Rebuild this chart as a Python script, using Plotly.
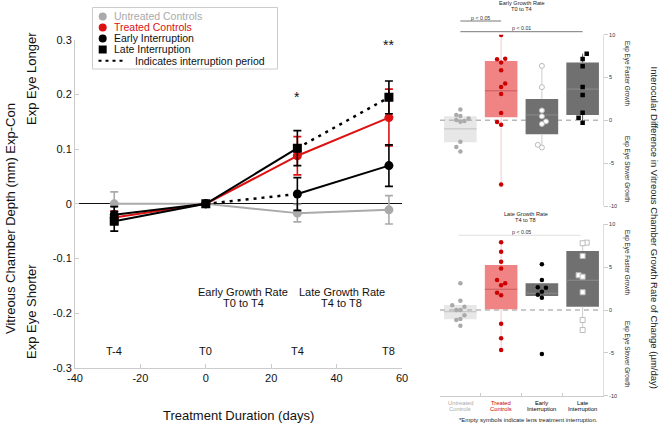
import plotly.graph_objects as go

W, H = 660, 425
FONT = "Liberation Sans, Arial, Helvetica, sans-serif"


def fx(px):
    return px / W


def fy(py):
    return 1 - py / H


# ---------------- Left panel data ----------------
days = [-28, 0, 28, 56]
time_labels = ["T-4", "T0", "T4", "T8"]
sig_labels = ["", "", "*", "**"]
x_ticks = [-40, -20, 0, 20, 40, 60]
x_tick_text = ["-40", "-20", "0", "20", "40", "60"]
y_ticks = [-0.3, -0.2, -0.1, 0, 0.1, 0.2, 0.3]
y_tick_text = ["-0.3", "-0.2", "-0.1", "0", "0.1", "0.2", "0.3"]

untreated_y = [0.0, 0.0, -0.017, -0.011]
untreated_err = [0.022, 0.0, 0.016, 0.026]
treated_y = [-0.025, 0.0, 0.088, 0.158]
treated_err = [0.012, 0.0, 0.035, 0.052]
early_y = [-0.020, 0.0, 0.018, 0.070]
early_err = [0.015, 0.0, 0.030, 0.038]
late_y = [-0.032, 0.0, 0.102, 0.195]
late_err = [0.018, 0.0, 0.032, 0.030]

series_names = ["Untreated Controls", "Treated Controls", "Early Interruption", "Late Interruption"]
series_y = [untreated_y, treated_y, early_y, late_y]
series_err = [untreated_err, treated_err, early_err, late_err]
series_color = ["#aaaaaa", "#dd1111", "#000000", "#000000"]
series_symbol = ["circle", "circle", "circle", "square"]
interrupt_segment = [None, None, 1, 2]   # index of the interval drawn dotted

# ---------------- Right panel data ----------------
groups = ["Untreated<br>Controls", "Treated<br>Controls", "Early<br>Interruption", "Late<br>Interruption"]
group_colors = ["#aaaaaa", "#cc0000", "#000000", "#000000"]
rate_ticks = [-10, -5, 0, 5, 10]
rate_tick_text = ["-10", "-5", "0", "5", "10"]

# Early growth rate T0-T4 (µm/day)
t04_untreated = [1.28, 0.63, 0.51, 0.05, -0.15, -0.07, 0.23, -2.51, -3.10, -3.64]
t04_untreated_jit = [0, -0.1, 0, -0.1, 0, 0.1, 0.2, 0, -0.1, 0]
t04_treated = [9.97, 7.14, 7.20, 6.74, 5.86, 4.30, 3.88, 3.07, 0.86, -0.19, -0.50, -7.48]
t04_treated_jit = [0, -0.1, 0.1, 0, 0, 0.1, 0, 0, 0, -0.1, 0, 0]
t04_early = [6.36, 3.88, 1.16, 0.47, -0.12, -0.42, -2.86, -3.17]
t04_early_jit = [0, 0, 0, 0, 0.1, 0, -0.1, 0]
t04_late = [7.79, 7.17, 6.33, 3.88, 2.95, 0.90, 0.31, -0.27]
t04_late_jit = [0.1, 0, 0, 0, 0, 0, -0.1, 0]
t04_box_low = [-2.56, 0.35, -1.63, 0.63]
t04_box_high = [0.47, 6.94, 2.49, 6.74]
t04_box_mid = [-1.00, 3.45, 0.63, 3.65]

# Late growth rate T4-T8 (µm/day)
t48_untreated = [3.12, 1.09, 0.55, 0.39, 0.0, 0.0, -0.62, -1.05, -1.17, -1.83]
t48_untreated_jit = [0, 0, -0.2, 0.1, -0.1, 0, 0.1, 0, -0.1, 0]
t48_treated = [7.91, 6.81, 5.64, 4.83, 3.50, 3.12, 2.88, 2.02, 1.71, -1.60, -3.31, -4.67]
t48_treated_jit = [0, 0, 0, 0, -0.1, 0.1, 0, -0.1, 0, 0, 0, 0]
t48_early = [5.34, 3.50, 2.65, 2.60, 2.14, 1.79, 1.44, -5.14]
t48_early_jit = [0, 0, -0.1, 0.1, 0, -0.1, 0, 0]
t48_late = [7.86, 7.79, 6.31, 4.05, 3.89, 2.07, -1.17, -2.34]
t48_late_jit = [0.1, 0, 0, -0.1, 0, 0, 0, 0]
t48_box_low = [-1.09, 0.08, 1.64, 0.39]
t48_box_high = [0.58, 5.26, 3.12, 6.89]
t48_box_mid = [-0.20, 2.42, 1.95, 3.47]

fig = go.Figure()

# ---------------- Left panel traces ----------------
for k in range(4):
    y = series_y[k]
    col = series_color[k]
    sx, sy, dx, dy = [], [], [], []
    for i in range(len(days) - 1):
        if i == interrupt_segment[k]:
            dx += [days[i], days[i + 1], None]
            dy += [y[i], y[i + 1], None]
        else:
            sx += [days[i], days[i + 1], None]
            sy += [y[i], y[i + 1], None]
    fig.add_trace(go.Scatter(x=sx, y=sy, mode="lines", line=dict(color=col, width=2),
                             xaxis="x", yaxis="y", hoverinfo="skip", showlegend=False))
    if dx:
        fig.add_trace(go.Scatter(x=dx, y=dy, mode="lines",
                                 line=dict(color="black", width=2.5, dash="3px,5px"),
                                 xaxis="x", yaxis="y", hoverinfo="skip", showlegend=False))
    fig.add_trace(go.Scatter(
        x=days, y=y, mode="markers", name=series_names[k],
        marker=dict(color=col, size=9, symbol=series_symbol[k]),
        error_y=dict(type="data", array=series_err[k], visible=True, color=col,
                     thickness=1.6, width=4),
        xaxis="x", yaxis="y", showlegend=False))

annotations = []


def txt(x, y, s, size, color="#111", xref="paper", yref="paper", **kw):
    d = dict(x=x, y=y, xref=xref, yref=yref, text=s, showarrow=False,
             xanchor="center", yanchor="middle", font=dict(size=size, color=color))
    d.update(kw)
    annotations.append(d)


for d, lab in zip(days, time_labels):
    txt(d, -0.27, lab, 11, xref="x", yref="y")
sig_y = {"*": 0.196, "**": 0.29}
for d, s in zip(days, sig_labels):
    if s:
        txt(d, sig_y[s], s, 14, xref="x", yref="y")

txt(11.4, -0.1606, "Early Growth Rate", 11, xref="x", yref="y")
txt(11.4, -0.1819, "T0 to T4", 11, xref="x", yref="y")
txt(41.5, -0.1606, "Late Growth Rate", 11, xref="x", yref="y")
txt(41.5, -0.1819, "T4 to T8", 11, xref="x", yref="y")
txt(fx(10), fy(219), "Vitreous Chamber Depth (mm) Exp-Con", 13, textangle=-90)
txt(fx(31), fy(78), "Exp Eye Longer", 13, textangle=-90)
txt(fx(31), fy(311), "Exp Eye Shorter", 13, textangle=-90)
txt(fx(238.5), fy(415), "Treatment Duration (days)", 13)

# manual legend
shapes = []
shapes.append(dict(type="rect", xref="paper", yref="paper", x0=fx(92.5), x1=fx(277.5),
                   y0=fy(69), y1=fy(7.5), line=dict(color="#cccccc", width=1),
                   fillcolor="white", layer="above"))
leg_y = [16.5, 27.5, 38.5, 49.5]
leg_text_col = ["#aaaaaa", "#dd1111", "#111111", "#111111"]
for k in range(4):
    cy = leg_y[k]
    kind = "circle" if series_symbol[k] == "circle" else "rect"
    shapes.append(dict(type=kind, xref="paper", yref="paper", x0=fx(98.7), x1=fx(106.7),
                       y0=fy(cy + 4), y1=fy(cy - 4), fillcolor=series_color[k],
                       line=dict(width=0), layer="above"))
    txt(fx(111.5), fy(cy), series_names[k], 10.5, leg_text_col[k], xanchor="left")
shapes.append(dict(type="line", xref="paper", yref="paper", x0=fx(98.5), x1=fx(124),
                   y0=fy(60.7), y1=fy(60.7), line=dict(color="black", width=2, dash="3px,4px"),
                   layer="above"))
txt(fx(133), fy(60.7), "Indicates interruption period", 10.5, xanchor="left")

# ---------------- Right panels ----------------
bar_colors = ["rgba(185,185,185,0.35)", "#f08484", "#707070", "#707070"]
mid_colors = ["rgba(120,120,120,0.35)", "rgba(170,60,60,0.55)", "#8c8c8c", "#8c8c8c"]
whisker_t04 = [None, "#f6c8c8", "#cccccc", "#555555"]
whisker_t48 = [None, "#f6c8c8", None, "#cccccc"]

panel_marker_t04 = [
    dict(color="#aaaaaa", size=4.5, symbol="circle"),
    dict(color="#cc0000", size=4.5, symbol="circle"),
    dict(color="white", size=5, symbol="circle", line=dict(color="#bbbbbb", width=1)),
    dict(color="black", size=4.5, symbol="square"),
]
panel_marker_t48 = [
    dict(color="#aaaaaa", size=4.5, symbol="circle"),
    dict(color="#cc0000", size=4.5, symbol="circle"),
    dict(color="black", size=4.5, symbol="circle"),
    dict(color="white", size=5, symbol="square", line=dict(color="#bbbbbb", width=1)),
]

panels = [
    ("x2", "y2", [t04_untreated, t04_treated, t04_early, t04_late],
     [t04_untreated_jit, t04_treated_jit, t04_early_jit, t04_late_jit],
     t04_box_low, t04_box_high, t04_box_mid, whisker_t04, panel_marker_t04),
    ("x3", "y3", [t48_untreated, t48_treated, t48_early, t48_late],
     [t48_untreated_jit, t48_treated_jit, t48_early_jit, t48_late_jit],
     t48_box_low, t48_box_high, t48_box_mid, whisker_t48, panel_marker_t48),
]
cats = [1, 2, 3, 4]
for xa, ya, vals, jits, lo, hi, mid, wcol, mstyle in panels:
    fig.add_trace(go.Bar(x=cats, y=[h - l for h, l in zip(hi, lo)], base=lo, width=0.8,
                         marker=dict(color=bar_colors, line=dict(width=0)),
                         xaxis=xa, yaxis=ya, hoverinfo="skip", showlegend=False))
    for i in range(4):
        if wcol[i]:
            vmax, vmin = max(vals[i]), min(vals[i])
            wx, wy = [], []
            if vmax > hi[i]:
                wx += [cats[i], cats[i], None]
                wy += [hi[i], vmax, None]
            if vmin < lo[i]:
                wx += [cats[i], cats[i], None]
                wy += [lo[i], vmin, None]
            fig.add_trace(go.Scatter(x=wx, y=wy, mode="lines", line=dict(color=wcol[i], width=1),
                                     xaxis=xa, yaxis=ya, hoverinfo="skip", showlegend=False))
        fig.add_trace(go.Scatter(x=[cats[i] - 0.4, cats[i] + 0.4], y=[mid[i], mid[i]], mode="lines",
                                 line=dict(color=mid_colors[i], width=1),
                                 xaxis=xa, yaxis=ya, hoverinfo="skip", showlegend=False))
    for i in range(4):
        fig.add_trace(go.Scatter(x=[cats[i] + j for j in jits[i]], y=vals[i], mode="markers",
                                 marker=mstyle[i], xaxis=xa, yaxis=ya, showlegend=False))

# zero dashed lines
for xa, ya in [("x2", "y2"), ("x3", "y3")]:
    shapes.append(dict(type="line", xref=xa + " domain", yref=ya, x0=0, x1=0.97, y0=0, y1=0,
                       line=dict(color="#b8b8b8", width=1.5, dash="5px,4px"), layer="below"))

# significance brackets
shapes += [
    dict(type="line", xref="x2", yref="paper", x0=1, x1=2, y0=fy(21), y1=fy(21),
         line=dict(color="#555555", width=0.8)),
    dict(type="line", xref="x2", yref="paper", x0=1, x1=4, y0=fy(31.7), y1=fy(31.7),
         line=dict(color="#555555", width=0.8)),
    dict(type="line", xref="x3", yref="paper", x0=0.95, x1=3.95, y0=fy(235.3), y1=fy(235.3),
         line=dict(color="#d8d8d8", width=0.8)),
]
txt(1.5, fy(17.6), "p < 0.05", 5.3, "#333", xref="x2")
txt(2.5, fy(28), "p < 0.01", 5.3, "#333", xref="x2")
txt(2.5, fy(232), "p < 0.05", 5.3, "#333", xref="x3")

txt(fx(521.7), fy(3.4), "Early Growth Rate", 5.6, "#222")
txt(fx(521.7), fy(9.4), "T0 to T4", 5.6, "#222")
txt(fx(525.5), fy(214.3), "Late Growth Rate", 5.6, "#222")
txt(fx(525.5), fy(220.2), "T4 to T8", 5.6, "#222")

txt(fx(627), fy(74), "Exp Eye Faster Growth", 6.3, "#222", textangle=90)
txt(fx(627), fy(169), "Exp Eye Slower Growth", 6.3, "#222", textangle=90)
txt(fx(627), fy(263), "Exp Eye Faster Growth", 6.3, "#222", textangle=90)
txt(fx(627), fy(354), "Exp Eye Slower Growth", 6.3, "#222", textangle=90)
txt(fx(654), fy(227.5),
    "Interocular Difference in Vitreous Chamber Growth Rate of Change (µm/day)", 9.5, "#222",
    textangle=90)
txt(fx(528), fy(420), "*Empty symbols indicate lens treatment interruption.", 6, "#222")

for c, g, gc in zip(cats, groups, group_colors):
    l1, l2 = g.split("<br>")
    txt(c, fy(402.7), l1, 5.8, gc, xref="x3")
    txt(c, fy(408.6), l2, 5.8, gc, xref="x3")

axis_common = dict(showgrid=False, zeroline=False, fixedrange=True, automargin=False)
fig.update_layout(
    template="none",
    width=W, height=H,
    margin=dict(l=0, r=0, t=0, b=0, pad=0, autoexpand=False),
    paper_bgcolor="white", plot_bgcolor="white",
    font=dict(family=FONT, color="#111"),
    showlegend=False,
    xaxis=dict(domain=[fx(75), fx(402)], range=[-40, 60], tickvals=x_ticks, ticktext=x_tick_text,
               anchor="y", ticks="inside", ticklen=4, tickcolor="#cccccc", showline=True,
               linecolor="#cccccc", tickfont=dict(size=11), **axis_common),
    yaxis=dict(domain=[fy(367.7), fy(40)], range=[-0.3, 0.3], tickvals=y_ticks,
               ticktext=y_tick_text, anchor="x", ticks="inside", ticklen=4, tickcolor="#cccccc",
               showline=True, linecolor="#cccccc", tickfont=dict(size=11),
               showgrid=False, fixedrange=True, automargin=False, zeroline=True,
               zerolinecolor="#111", zerolinewidth=1),
    xaxis2=dict(domain=[fx(440), fx(603)], range=[0.5, 4.5], anchor="y2", visible=False,
                **axis_common),
    yaxis2=dict(domain=[fy(206), fy(34.7)], range=[-10, 10], anchor="x2", side="right",
                tickvals=rate_ticks, ticktext=rate_tick_text, ticks="outside", ticklen=4,
                tickcolor="#cccccc", showline=True, linecolor="#dddddd",
                tickfont=dict(size=5.5, color="#333"), **axis_common),
    xaxis3=dict(domain=[fx(440), fx(603)], range=[0.5, 4.5], anchor="y3",
                tickvals=[0.5, 1.5, 2.5, 3.5, 4.5], ticktext=["", "", "", "", ""],
                ticks="inside", ticklen=3, tickcolor="#cccccc", showline=True,
                linecolor="#cccccc", **axis_common),
    yaxis3=dict(domain=[fy(395.7), fy(224.3)], range=[-10, 10], anchor="x3", side="right",
                tickvals=rate_ticks, ticktext=rate_tick_text, ticks="outside", ticklen=4,
                tickcolor="#cccccc", showline=True, linecolor="#dddddd",
                tickfont=dict(size=5.5, color="#333"), **axis_common),
    shapes=shapes,
    annotations=annotations,
)

fig.write_html("out.html", config={"displayModeBar": False},
               post_script="document.body.style.margin='0';document.body.style.overflow='hidden';")
